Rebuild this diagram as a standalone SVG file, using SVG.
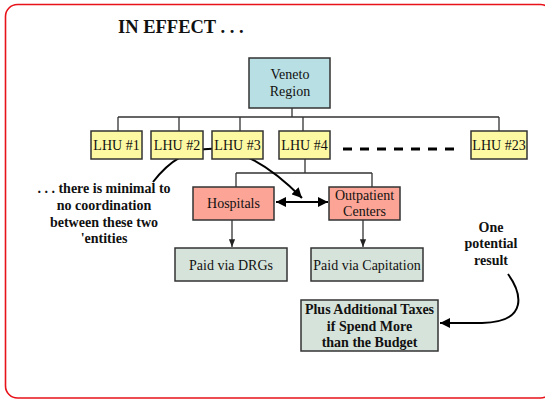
<svg xmlns="http://www.w3.org/2000/svg" width="545" height="400" viewBox="0 0 545 400">
<defs>
<style>
.box{stroke:#333;stroke-width:1.5}
text{font-family:"Liberation Serif","Times New Roman",serif !important}
.lbl{font-size:14px;fill:#111;text-anchor:middle}
.bold{font-weight:bold}
.ln{fill:none;stroke:#333;stroke-width:1.3}
.thick{fill:none;stroke:#000;stroke-width:2}
</style>
<marker id="ah" viewBox="0 0 10 10" refX="10" refY="5" markerWidth="5" markerHeight="5" orient="auto-start-reverse" markerUnits="strokeWidth"><path d="M0,0 L10,5 L0,10 Z" fill="#000"/></marker>
<marker id="as" viewBox="0 0 10 10" refX="10" refY="5" markerWidth="6" markerHeight="6" orient="auto" markerUnits="strokeWidth"><path d="M0,1 L10,5 L0,9 Z" fill="#222"/></marker>
</defs>
<rect x="5.5" y="4.5" width="547" height="393.5" rx="12" fill="#fff" stroke="#e8121a" stroke-width="1.6"/>
<text x="118" y="33" font-family="Liberation Serif, Times New Roman, serif" font-size="18.5" font-weight="bold" fill="#111">IN EFFECT . . .</text>

<g id="connectors">
<path class="ln" d="M292,108 V117 M118,117 H499 M118,117 V131 M179,117 V131 M240,117 V131 M303,117 V131 M499,117 V131"/>
<path class="ln" d="M305,159 V173 M236,173 H372 M236,173 V187 M372,173 V187"/>
<path class="ln" d="M232,220 V247" marker-end="url(#as)"/>
<path class="ln" d="M363,220 V247" marker-end="url(#as)"/>
<path class="thick" d="M276,202 H328" marker-start="url(#ah)" marker-end="url(#ah)"/>
<path class="thick" d="M153,182 C185,140 235,130 302,198" marker-end="url(#ah)"/>
<path class="thick" d="M508,274 C521,292 530,322 482,323 L440,323" marker-end="url(#ah)"/>
<path d="M343,149 H460" stroke="#000" stroke-width="3" stroke-dasharray="9,8"/>
</g>

<g id="veneto"><rect class="box" x="249" y="58" width="81" height="50" fill="#b8dfe3"/><text class="lbl" x="290" y="79" font-family="Liberation Serif, serif">Veneto</text><text class="lbl" x="290" y="96" font-family="Liberation Serif, serif">Region</text></g>
<g id="lhu1"><rect class="box" x="91" y="131" width="51" height="28" fill="#fdf9a3"/><text class="lbl" x="116.5" y="150" font-family="Liberation Serif, serif">LHU #1</text></g>
<g id="lhu2"><rect class="box" x="151" y="131" width="52" height="28" fill="#fdf9a3"/><text class="lbl" x="177" y="150" font-family="Liberation Serif, serif">LHU #2</text></g>
<g id="lhu3"><rect class="box" x="212" y="131" width="51" height="28" fill="#fdf9a3"/><text class="lbl" x="237.5" y="150" font-family="Liberation Serif, serif">LHU #3</text></g>
<g id="lhu4"><rect class="box" x="279" y="131" width="51" height="28" fill="#fdf9a3"/><text class="lbl" x="304.5" y="150" font-family="Liberation Serif, serif">LHU #4</text></g>
<g id="lhu23"><rect class="box" x="471" y="131" width="56" height="28" fill="#fdf9a3"/><text class="lbl" x="499" y="150" font-family="Liberation Serif, serif">LHU #23</text></g>
<g id="hospitals"><rect class="box" x="193" y="187" width="81" height="33" fill="#fca596"/><text class="lbl" x="233.5" y="208" font-family="Liberation Serif, serif">Hospitals</text></g>
<g id="outpatient"><rect class="box" x="329" y="187" width="71" height="33" fill="#fca596"/><text class="lbl" x="364.5" y="200" font-family="Liberation Serif, serif">Outpatient</text><text class="lbl" x="364.5" y="216" font-family="Liberation Serif, serif">Centers</text></g>
<g id="drgs"><rect class="box" x="175" y="248" width="112" height="33" fill="#d6e3da"/><text class="lbl" x="231" y="270" font-family="Liberation Serif, serif">Paid via DRGs</text></g>
<g id="capitation"><rect class="box" x="311" y="248" width="112" height="33" fill="#d6e3da"/><text class="lbl" x="367" y="270" font-family="Liberation Serif, serif">Paid via Capitation</text></g>
<g id="taxes"><rect class="box" x="301" y="300" width="137" height="51" fill="#d6e3da"/><text class="lbl bold" x="369.5" y="314" font-family="Liberation Serif, serif">Plus Additional Taxes</text><text class="lbl bold" x="369.5" y="331" font-family="Liberation Serif, serif">if Spend More</text><text class="lbl bold" x="369.5" y="347" font-family="Liberation Serif, serif">than the Budget</text></g>
<g id="note-left"><text class="lbl bold" x="104" y="193" font-family="Liberation Serif, serif">. . . there is minimal to</text><text class="lbl bold" x="104" y="210" font-family="Liberation Serif, serif">no coordination</text><text class="lbl bold" x="104" y="227" font-family="Liberation Serif, serif">between these two</text><text class="lbl bold" x="104" y="243" font-family="Liberation Serif, serif">'entities</text></g>
<g id="note-right"><text class="lbl bold" x="491" y="232" font-family="Liberation Serif, serif">One</text><text class="lbl bold" x="491" y="248" font-family="Liberation Serif, serif">potential</text><text class="lbl bold" x="491" y="265" font-family="Liberation Serif, serif">result</text></g>
</svg>
